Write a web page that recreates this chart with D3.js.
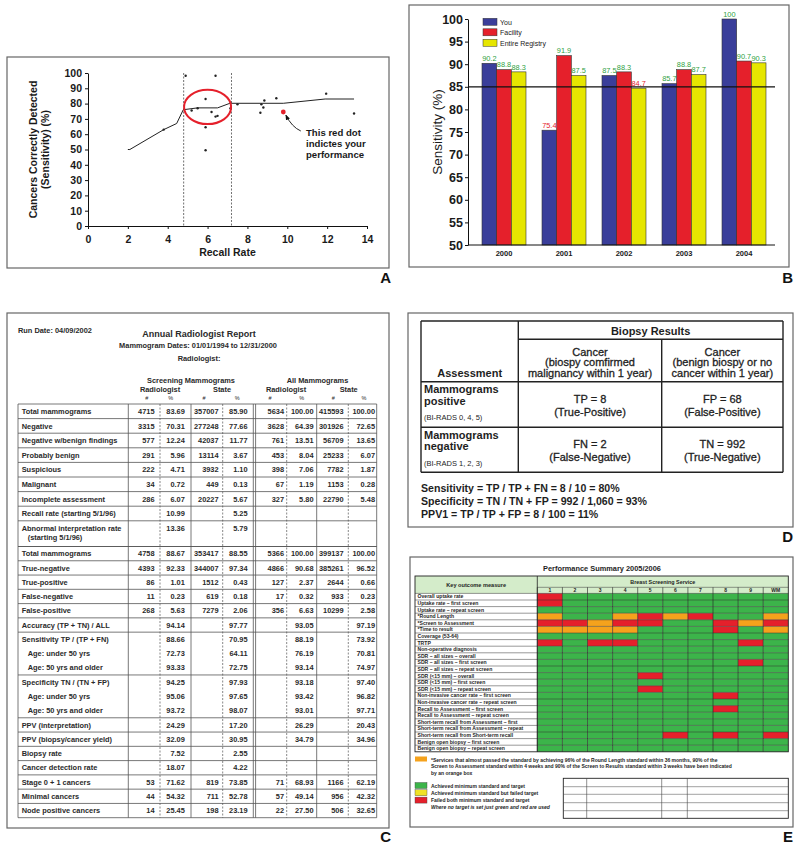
<!DOCTYPE html>
<html><head><meta charset="utf-8">
<script src="https://d3js.org/d3.v7.min.js"></script>
<style>body{margin:0;background:#fff}svg{display:block}</style>
</head><body><svg id="c" width="800" height="848"></svg>
<script>
// ---------------- DATA ----------------
// Panel A
const recallTicks = [0,2,4,6,8,10,12,14];
const sensTicks = [0,10,20,30,40,50,60,70,80,90,100];
const trendRecall = [2.0, 2.1, 3.8, 4.45, 4.78, 5.5, 6.5, 7.12, 9.8, 11.9, 13.35];
const trendSens   = [50, 50, 63, 67, 76, 77.2, 77.2, 80.2, 80.2, 83, 83];
const dotRecall = [3.8, 4.9, 6.4, 5.9, 5.2, 5.5, 6.2, 6.4, 6.5, 5.9, 5.9, 7.15, 7.5, 8.65, 8.7, 8.85, 8.8, 9.45, 11.95, 13.35];
const dotSens   = [63, 98.2, 98.2, 83, 75.5, 77, 74.5, 71.5, 72, 64.5, 49.5, 77, 79.5, 74, 79.5, 82, 77.5, 83.5, 86.5, 73.5];
const youRecall = 9.8, youSens = 74.5;
const targetRange = [4.8, 7.2];
const annotLines = ["This red dot", "indictes your", "performance"];

// Panel B
const years = ["2000","2001","2002","2003","2004"];
const seriesNames = ["You","Facility","Entire Registry"];
const youVals = [90.2, 75.4, 87.5, 85.7, 100];
const facilityVals = [88.8, 91.9, 88.3, 88.8, 90.7];
const registryVals = [88.3, 87.5, 84.7, 87.7, 90.3];
const sensBTicks = [50,55,60,65,70,75,80,85,90,95,100];
const benchmark = 85;

// Panel C
const reportHeader = ["Run Date: 04/09/2002","Annual Radiologist Report","Mammogram Dates: 01/01/1994 to 12/31/2000","Radiologist:"];
const groupHeads = ["Screening Mammograms","All Mammograms"];
const colHeads = ["Radiologist","State","Radiologist","State"];
const secALabels = ["Total mammograms","Negative","Negative w/benign findings","Probably benign","Suspicious","Malignant","Incomplete assessment","Recall rate (starting 5/1/96)","Abnormal interpretation rate|(starting 5/1/96)"];
const secAVals = [
 ["4715","83.69","357007","85.90","5634","100.00","415593","100.00"],
 ["3315","70.31","277248","77.66","3628","64.39","301926","72.65"],
 ["577","12.24","42037","11.77","761","13.51","56709","13.65"],
 ["291","5.96","13114","3.67","453","8.04","25233","6.07"],
 ["222","4.71","3932","1.10","398","7.06","7782","1.87"],
 ["34","0.72","449","0.13","67","1.19","1153","0.28"],
 ["286","6.07","20227","5.67","327","5.80","22790","5.48"],
 ["","10.99","","5.25","","","",""],
 ["","13.36","","5.79","","","",""]
];
const secBLabels = ["Total mammograms","True-negative","True-positive","False-negative","False-positive","Accuracy (TP + TN) / ALL","Sensitivity TP / (TP + FN)","Age: under 50 yrs","Age: 50 yrs and older","Specificity TN / (TN + FP)","Age: under 50 yrs","Age: 50 yrs and older","PPV (interpretation)","PPV (biopsy/cancer yield)","Biopsy rate","Cancer detection rate","Stage 0 + 1 cancers","Minimal cancers","Node positive cancers"];
const secBVals = [
 ["4758","88.67","353417","88.55","5366","100.00","399137","100.00"],
 ["4393","92.33","344007","97.34","4866","90.68","385261","96.52"],
 ["86","1.01","1512","0.43","127","2.37","2644","0.66"],
 ["11","0.23","619","0.18","17","0.32","933","0.23"],
 ["268","5.63","7279","2.06","356","6.63","10299","2.58"],
 ["","94.14","","97.77","","93.05","","97.19"],
 ["","88.66","","70.95","","88.19","","73.92"],
 ["","72.73","","64.11","","76.19","","70.81"],
 ["","93.33","","72.75","","93.14","","74.97"],
 ["","94.25","","97.93","","93.18","","97.40"],
 ["","95.06","","97.65","","93.42","","96.82"],
 ["","93.72","","98.07","","93.01","","97.71"],
 ["","24.29","","17.20","","26.29","","20.43"],
 ["","32.09","","30.95","","34.79","","34.96"],
 ["","7.52","","2.55","","","",""],
 ["","18.07","","4.22","","","",""],
 ["53","71.62","819","73.85","71","68.93","1166","62.19"],
 ["44","54.32","711","52.78","57","49.14","956","42.32"],
 ["14","25.45","198","23.19","22","27.50","506","32.65"]
];

// Panel D
const dHeadTop = "Biopsy Results";
const dColHeads = [["Cancer","(biospy comfirmed","malignancy within 1 year)"],["Cancer","(benign biospy or no","cancer within 1 year)"]];
const dRowHeads = [["Mammograms","positive","(BI-RADS 0, 4, 5)"],["Mammograms","negative","(BI-RADS 1, 2, 3)"]];
const dCells = [[["TP = 8","(True-Positive)"],["FP = 68","(False-Positive)"]],[["FN = 2","(False-Negative)"],["TN = 992","(True-Negative)"]]];
const dFormulas = ["Sensitivity = TP / TP + FN = 8 / 10 = 80%","Specificity = TN / TN + FP = 992 / 1,060 = 93%","PPV1 = TP / TP + FP = 8 / 100 = 11%"];

// Panel E
const eTitle = "Performance Summary 2005/2006";
const services = ["1","2","3","4","5","6","7","8","9","WM"];
const measures = ["Overall uptake rate","Uptake rate \u2013 first screen","Uptake rate \u2013 repeat screen","*Round Length","*Screen to Assessment","*Time to result","Coverage (53-64)","TRTP","Non-operative diagnosis","SDR \u2013 all sizes \u2013 overall","SDR \u2013 all sizes \u2013 first screen","SDR \u2013 all sizes \u2013 repeat screen","SDR (<15 mm) \u2013 overall","SDR (<15 mm) \u2013 first screen","SDR (<15 mm) \u2013 repeat screen","Non-invasive cancer rate \u2013 first screen","Non-invasive cancer rate \u2013 repeat screen","Recall to Assessment \u2013 first screen","Recall to Assessment \u2013 repeat screen","Short-term recall from Assessment \u2013 first","Short-term recall from Assessment \u2013 repeat","Short-term recall from Short-term recall","Benign open biopsy \u2013 first screen","Benign open biopsy \u2013 repeat screen"];
const status = ["rggggggggg","rggggggggg","gggggggggg","oggororggo","rrorrggror","oooogggrgo","gggggggggg","rgrrggggrg","gggggggggg","gggggggggg","ggggggggrg","gggggggggg","ggggrggggg","gggggggggg","ggggrggggg","gggggggrgg","gggggggggg","gggggggrgg","gggggggggg","gggggggggg","gggggggggg","gggggrgrgr","gggggggggg","gggggggggg"];
const eNote = ["*Services that almost passed the standard by achieving 96% of the Round Length standard within 36 months, 90% of the","Screen to Assessment standard within 4 weeks and 90% of the Screen to Results standard within 3 weeks have been indicated","by an orange box"];
const eLegend = [["g","Achieved minimum standard and target"],["y","Achieved minimum standard but failed target"],["r","Failed both minimum standard and target"],["","Where no target is set just green and red are used"]];

// ---------------- DRAW ----------------
const FONT = '"Liberation Sans", Arial, Helvetica, sans-serif';
const COL = {blue:"#3a3e9a", red:"#e5202b", yellow:"#e6e600", green:"#3cb44a", orange:"#f5a21c", yel2:"#f0e226", lgreen:"#d4ecca", gtext:"#2f9f3f"};
const svg = d3.select("#c").attr("font-family", FONT);
svg.append("rect").attr("width",800).attr("height",848).attr("fill","#fff");

function box(x0,y0,x1,y1){
  svg.append("rect").attr("x",x0).attr("y",y0).attr("width",x1-x0).attr("height",y1-y0)
    .attr("fill","none").attr("stroke","#666").attr("stroke-width",1.2);
}
function letter(t,x,y){
  svg.append("text").attr("x",x).attr("y",y).attr("text-anchor","end").attr("font-size",15)
    .attr("font-weight","bold").attr("fill","#111").text(t);
}
function styleAxis(g,size,weight){
  g.attr("font-family",FONT).attr("font-size",size);
  g.selectAll("text").attr("font-weight",weight).attr("fill","#1a1a1a");
  g.selectAll("path,line").attr("stroke","#111");
}

// ===== Panel A =====
box(7,57,389,268); letter("A",391,283);
const gA = svg.append("g");
const xA = d3.scaleLinear().domain([0,14]).range([88,367]);
const yA = d3.scaleLinear().domain([0,100]).range([226,73]);
const axAx = gA.append("g").attr("transform","translate(0,226)")
  .call(d3.axisBottom(xA).tickValues(recallTicks).tickSize(3).tickSizeOuter(0).tickPadding(7));
styleAxis(axAx,10.5,"bold");
const axAy = gA.append("g").attr("transform","translate(88,0)")
  .call(d3.axisLeft(yA).tickValues(sensTicks).tickSize(3).tickSizeOuter(0).tickPadding(3));
styleAxis(axAy,10.5,"bold");
gA.append("text").attr("x",(xA(0)+xA(14))/2).attr("y",256).attr("text-anchor","middle")
  .attr("font-size",10.5).attr("font-weight","bold").attr("fill","#1a1a1a").text("Recall Rate");
const ytA = gA.append("text").attr("transform",`translate(37,${(yA(0)+yA(100))/2}) rotate(-90)`)
  .attr("text-anchor","middle").attr("font-size",10.5).attr("font-weight","bold").attr("fill","#1a1a1a");
ytA.append("tspan").attr("x",0).attr("dy",0).text("Cancers Correctly Detected");
ytA.append("tspan").attr("x",0).attr("dy",11.5).text("(Sensitivity) (%)");
targetRange.forEach(v=>{
  gA.append("line").attr("x1",xA(v)).attr("x2",xA(v)).attr("y1",yA(100)).attr("y2",yA(0))
    .attr("stroke","#333").attr("stroke-width",0.7).attr("stroke-dasharray","2,1.5");
});
gA.append("path").datum(trendRecall.map((r,i)=>[r,trendSens[i]]))
  .attr("d",d3.line().x(d=>xA(d[0])).y(d=>yA(d[1])))
  .attr("fill","none").attr("stroke","#222").attr("stroke-width",1);
gA.selectAll("circle.dot").data(dotRecall.map((r,i)=>[r,dotSens[i]])).join("circle")
  .attr("class","dot").attr("cx",d=>xA(d[0])).attr("cy",d=>yA(d[1])).attr("r",1.2).attr("fill","#222");
const cx = (targetRange[0]+targetRange[1])/2;
gA.append("ellipse").attr("cx",xA(cx)).attr("cy",yA(77.8))
  .attr("rx",xA(targetRange[1]-0.02)-xA(cx)).attr("ry",yA(66.6)-yA(77.8))
  .attr("fill","none").attr("stroke",COL.red).attr("stroke-width",2);
gA.append("circle").attr("cx",xA(youRecall)).attr("cy",yA(youSens)).attr("r",2.4).attr("fill",COL.red);
const defs = svg.append("defs");
defs.append("marker").attr("id","ah").attr("viewBox","0 0 10 10").attr("refX",9).attr("refY",5)
  .attr("markerWidth",6).attr("markerHeight",6).attr("orient","auto")
  .append("path").attr("d","M0,1 L10,5 L0,9 z").attr("fill","#111");
const tx = xA(youRecall)+2.5, ty = yA(youSens)+3;
gA.append("path").attr("d",`M${tx+15},${ty+16} Q${tx+6},${ty+12} ${tx},${ty}`)
  .attr("fill","none").attr("stroke","#111").attr("stroke-width",0.9).attr("marker-end","url(#ah)");
annotLines.forEach((t,i)=>{
  gA.append("text").attr("x",306).attr("y",135.5+i*11.3).attr("font-size",9.6).attr("font-weight","bold")
    .attr("fill","#1a1a1a").text(t);
});

// ===== Panel B =====
box(409,5,789,267); letter("B",793,283);
const gB = svg.append("g");
const yB = d3.scaleLinear().domain([50,100]).range([245,19]);
const xB = d3.scaleBand().domain(years).range([474,774]).paddingInner(16/60).paddingOuter(8/60);
const xB1 = d3.scaleBand().domain(seriesNames).range([0,xB.bandwidth()]);
const seriesVals = [youVals, facilityVals, registryVals];
const seriesCol = [COL.blue, COL.red, COL.yellow];
const barData = [];
years.forEach((y,i)=>seriesNames.forEach((s,j)=>barData.push({year:y,s,j,v:seriesVals[j][i]})));
gB.selectAll("rect.bar").data(barData).join("rect").attr("class","bar")
  .attr("x",d=>xB(d.year)+xB1(d.s)).attr("width",xB1.bandwidth())
  .attr("y",d=>yB(d.v)).attr("height",d=>yB(50)-yB(d.v))
  .attr("fill",d=>seriesCol[d.j]).attr("stroke","#333").attr("stroke-width",0.6);
gB.selectAll("text.vl").data(barData).join("text").attr("class","vl")
  .attr("x",d=>xB(d.year)+xB1(d.s)+xB1.bandwidth()/2).attr("y",d=>yB(d.v)-2.2)
  .attr("text-anchor","middle").attr("font-size",7.4)
  .attr("fill",d=>d.v<benchmark?COL.red:COL.gtext).text(d=>d.v);
const axBy = gB.append("g").attr("transform","translate(468,0)")
  .call(d3.axisLeft(yB).tickValues(sensBTicks).tickSize(3).tickSizeOuter(0).tickPadding(2));
styleAxis(axBy,12.5,"bold");
gB.append("line").attr("x1",468).attr("x2",775).attr("y1",yB(50)).attr("y2",yB(50)).attr("stroke","#111").attr("stroke-width",1);
gB.append("line").attr("x1",468).attr("x2",775).attr("y1",yB(benchmark)).attr("y2",yB(benchmark)).attr("stroke","#111").attr("stroke-width",1.3);
gB.selectAll("text.xl").data(years).join("text").attr("class","xl")
  .attr("x",d=>xB(d)+xB.bandwidth()/2).attr("y",256).attr("text-anchor","middle")
  .attr("font-size",7.5).attr("font-weight","bold").attr("fill","#1a1a1a").text(d=>d);
gB.append("text").attr("transform",`translate(442,${(yB(50)+yB(100))/2}) rotate(-90)`)
  .attr("text-anchor","middle").attr("font-size",13.5).attr("fill","#1a1a1a").text("Sensitivity (%)");
seriesNames.forEach((s,j)=>{
  gB.append("rect").attr("x",483).attr("y",18.3+j*10.5).attr("width",14).attr("height",7)
    .attr("fill",seriesCol[j]).attr("stroke","#333").attr("stroke-width",0.5);
  gB.append("text").attr("x",500).attr("y",24.6+j*10.5).attr("font-size",7).attr("fill","#1a1a1a").text(s);
});

// ===== Panel C =====
box(7,313,389,828); letter("C",391,842);
const gC = svg.append("g").attr("fill","#2a2a2a");
gC.append("text").attr("x",18).attr("y",332.5).attr("font-size",7.4).attr("font-weight","bold").text(reportHeader[0]);
gC.append("text").attr("x",199).attr("y",336.5).attr("text-anchor","middle").attr("font-size",9).attr("font-weight","bold").text(reportHeader[1]);
gC.append("text").attr("x",198).attr("y",348).attr("text-anchor","middle").attr("font-size",7.4).attr("font-weight","bold").text(reportHeader[2]);
gC.append("text").attr("x",199).attr("y",360.5).attr("text-anchor","middle").attr("font-size",7.4).attr("font-weight","bold").text(reportHeader[3]);
[191,317.5].forEach((x,i)=>gC.append("text").attr("x",x).attr("y",382.5).attr("text-anchor","middle").attr("font-size",7.4).attr("font-weight","bold").text(groupHeads[i]));
[160,222,286,348.7].forEach((x,i)=>gC.append("text").attr("x",x).attr("y",391.8).attr("text-anchor","middle").attr("font-size",7.4).attr("font-weight","bold").text(colHeads[i]));
[146.7,170.7,204,237.3,270,301.7,333.3,364].forEach((x,i)=>gC.append("text").attr("x",x).attr("y",400.3).attr("text-anchor","middle").attr("font-size",5.5).text(i%2?"%":"#"));

const tL=18, tR=376.7, tTop=404, tBot=817.7;
const valEnds = [154.5,184.8,218.6,247.6,284,313.5,343.6,375];
const rowsC = [];
let yy = tTop;
secALabels.forEach((l,i)=>{ const h = i===secALabels.length-1 ? 23.2 : 14.6; rowsC.push({l,v:secAVals[i],y0:yy,h,line:true}); yy+=h; });
const sepY = yy; // double rule
yy = sepY+2.5;
const hB = (tBot-yy)/secBLabels.length;
secBLabels.forEach((l,i)=>{ rowsC.push({l,v:secBVals[i],y0:yy,h:hB,line:!l.startsWith("Age:")}); yy+=hB; });
rowsC.forEach(r=>{ if(r.line) gC.append("line").attr("x1",tL).attr("x2",tR).attr("y1",r.y0).attr("y2",r.y0).attr("stroke","#555").attr("stroke-width",0.8); });
gC.append("line").attr("x1",tL).attr("x2",tR).attr("y1",sepY+2.5).attr("y2",sepY+2.5).attr("stroke","#555").attr("stroke-width",0.8);
gC.append("line").attr("x1",tL).attr("x2",tR).attr("y1",tBot).attr("y2",tBot).attr("stroke","#555").attr("stroke-width",0.8);
[tL,128.3,191,316.7,tR,253.3,255.6].forEach(x=>gC.append("line").attr("x1",x).attr("x2",x).attr("y1",tTop).attr("y2",tBot).attr("stroke","#555").attr("stroke-width",0.8));
[160,222.7,286.7,348.3].forEach(x=>gC.append("line").attr("x1",x).attr("x2",x).attr("y1",tTop).attr("y2",tBot).attr("stroke","#555").attr("stroke-width",0.7).attr("stroke-dasharray","2,1.5"));
rowsC.forEach(r=>{
  const parts = r.l.split("|");
  const sub = r.l.startsWith("Age:");
  const base = r.y0 + Math.min(r.h,14.6)/2 + 2.6;
  parts.forEach((p,k)=>gC.append("text").attr("x",(sub||k>0)?27.7:21.7).attr("y",base+k*9.2)
    .attr("font-size",7.4).attr("font-weight","bold").text(p));
  r.v.forEach((v,k)=>{ if(v) gC.append("text").attr("x",valEnds[k]).attr("y",base).attr("text-anchor","end")
    .attr("font-size",7.4).attr("font-weight","bold").text(v); });
});

// ===== Panel D =====
box(408,313,793,527); letter("D",793,542);
const gD = svg.append("g").attr("fill","#1e1e1e");
const dx = [421,518.3,661.7,783], dy = [321,339.3,381.7,427.3,472.3];
const sD = {stroke:"#222","stroke-width":1.4};
function ln(g,x1,y1,x2,y2){ const l=g.append("line").attr("x1",x1).attr("y1",y1).attr("x2",x2).attr("y2",y2); Object.entries(sD).forEach(([k,v])=>l.attr(k,v)); }
ln(gD,dx[0],dy[0],dx[3],dy[0]); ln(gD,dx[1],dy[1],dx[3],dy[1]);
[2,3,4].forEach(i=>ln(gD,dx[0],dy[i],dx[3],dy[i]));
ln(gD,dx[0],dy[0],dx[0],dy[4]); ln(gD,dx[1],dy[0],dx[1],dy[4]); ln(gD,dx[2],dy[1],dx[2],dy[4]); ln(gD,dx[3],dy[0],dx[3],dy[4]);
gD.append("text").attr("x",(dx[1]+dx[3])/2).attr("y",334.5).attr("text-anchor","middle").attr("font-size",11).attr("font-weight","bold").text(dHeadTop);
gD.append("text").attr("x",(dx[0]+dx[1])/2).attr("y",376.5).attr("text-anchor","middle").attr("font-size",11).attr("font-weight","bold").text("Assessment");
const med = t => t.attr("stroke","#1e1e1e").attr("stroke-width",0.3);
dColHeads.forEach((lines,c)=>lines.forEach((t,k)=>med(gD.append("text").attr("x",(dx[c+1]+dx[c+2])/2).attr("y",355.5+k*10.7)
  .attr("text-anchor","middle").attr("font-size",11).text(t))));
dRowHeads.forEach((lines,r)=>{
  const y0 = dy[r+2];
  gD.append("text").attr("x",424).attr("y",y0+11.5).attr("font-size",11).attr("font-weight","bold").text(lines[0]);
  gD.append("text").attr("x",424).attr("y",y0+23).attr("font-size",11).attr("font-weight","bold").text(lines[1]);
  gD.append("text").attr("x",424).attr("y",y0+38.5).attr("font-size",7.5).text(lines[2]);
  dCells[r].forEach((cell,c)=>cell.forEach((t,k)=>med(gD.append("text").attr("x",(dx[c+1]+dx[c+2])/2)
    .attr("y",y0+(dy[r+3]-y0)/2-1.5+k*12.5).attr("text-anchor","middle").attr("font-size",11).text(t))));
});
dFormulas.forEach((t,i)=>gD.append("text").attr("x",421).attr("y",492+i*13).attr("font-size",10.6).attr("font-weight","bold").text(t));

// ===== Panel E =====
box(410,557,793,827); letter("E",793,842);
const gE = svg.append("g").attr("fill","#1e1e1e");
gE.append("text").attr("x",602).attr("y",570.5).attr("text-anchor","middle").attr("font-size",7.4).attr("font-weight","bold").text(eTitle);
const eL=415, eK=537.3, eR=788.3, eTop=576, eH1=587.3, eH2=593.4;
const xE = d3.scaleBand().domain(services).range([eK,eR]);
const yE = d3.scaleBand().domain(measures).range([eH2, eH2+measures.length*6.6]);
const eBot = eH2+measures.length*6.6;
gE.append("rect").attr("x",eL).attr("y",eTop).attr("width",eR-eL).attr("height",eH2-eTop).attr("fill",COL.lgreen);
const cmap = {g:COL.green,r:COL.red,o:COL.orange,y:COL.yel2};
const cells=[];
measures.forEach((m,i)=>services.forEach((s,j)=>cells.push({m,s,c:status[i][j]})));
gE.selectAll("rect.cell").data(cells).join("rect").attr("class","cell")
  .attr("x",d=>xE(d.s)).attr("y",d=>yE(d.m)).attr("width",xE.bandwidth()).attr("height",yE.bandwidth())
  .attr("fill",d=>cmap[d.c]);
measures.forEach(m=>gE.append("line").attr("x1",eL).attr("x2",eR).attr("y1",yE(m)).attr("y2",yE(m)).attr("stroke","#333").attr("stroke-width",0.5));
gE.append("line").attr("x1",eK).attr("x2",eR).attr("y1",eH1).attr("y2",eH1).attr("stroke","#333").attr("stroke-width",0.5);
services.forEach(s=>gE.append("line").attr("x1",xE(s)).attr("x2",xE(s)).attr("y1",eH1).attr("y2",eBot).attr("stroke","#222").attr("stroke-width",0.6));
gE.append("line").attr("x1",eK).attr("x2",eK).attr("y1",eTop).attr("y2",eBot).attr("stroke","#222").attr("stroke-width",0.8);
gE.append("rect").attr("x",eL).attr("y",eTop).attr("width",eR-eL).attr("height",eBot-eTop).attr("fill","none").attr("stroke","#222").attr("stroke-width",0.9);
gE.append("text").attr("x",(eL+eK)/2).attr("y",586.5).attr("text-anchor","middle").attr("font-size",5.6).attr("font-weight","bold").text("Key outcome measure");
gE.append("text").attr("x",(eK+eR)/2).attr("y",584).attr("text-anchor","middle").attr("font-size",5.4).attr("font-weight","bold").text("Breast Screening Service");
services.forEach(s=>gE.append("text").attr("x",xE(s)+xE.bandwidth()/2).attr("y",592.3).attr("text-anchor","middle").attr("font-size",5).attr("font-weight","bold").text(s));
measures.forEach(m=>gE.append("text").attr("x",417.5).attr("y",yE(m)+5).attr("font-size",5.1).attr("font-weight","bold").text(m));
gE.append("rect").attr("x",415).attr("y",756.5).attr("width",12).attr("height",5).attr("fill",COL.orange);
eNote.forEach((t,i)=>gE.append("text").attr("x",431).attr("y",761.5+i*6.6).attr("font-size",5).attr("font-weight","bold").text(t));
eLegend.forEach((d,i)=>{
  const y = 787.5+i*7.3;
  if(d[0]) gE.append("rect").attr("x",415).attr("y",y-5).attr("width",12).attr("height",6).attr("fill",cmap[d[0]]).attr("stroke","#444").attr("stroke-width",0.4);
  gE.append("text").attr("x",431).attr("y",y).attr("font-size",5).attr("font-weight","bold")
    .attr("font-style",d[0]?"normal":"italic").text(d[1]);
});
const gx0=563.3, gx1=788.3, gy0=778.3, gy1=818.3;
gE.append("rect").attr("x",gx0).attr("y",gy0).attr("width",gx1-gx0).attr("height",gy1-gy0).attr("fill","none").attr("stroke","#222").attr("stroke-width",0.9);
[786.7,794.3,802.7,810.7].forEach(y=>gE.append("line").attr("x1",gx0).attr("x2",gx1).attr("y1",y).attr("y2",y).attr("stroke","#444").attr("stroke-width",0.5));
[586.7,661.7,687.3].forEach(x=>gE.append("line").attr("x1",x).attr("x2",x).attr("y1",gy0).attr("y2",gy1).attr("stroke","#444").attr("stroke-width",0.6));
</script></body></html>
